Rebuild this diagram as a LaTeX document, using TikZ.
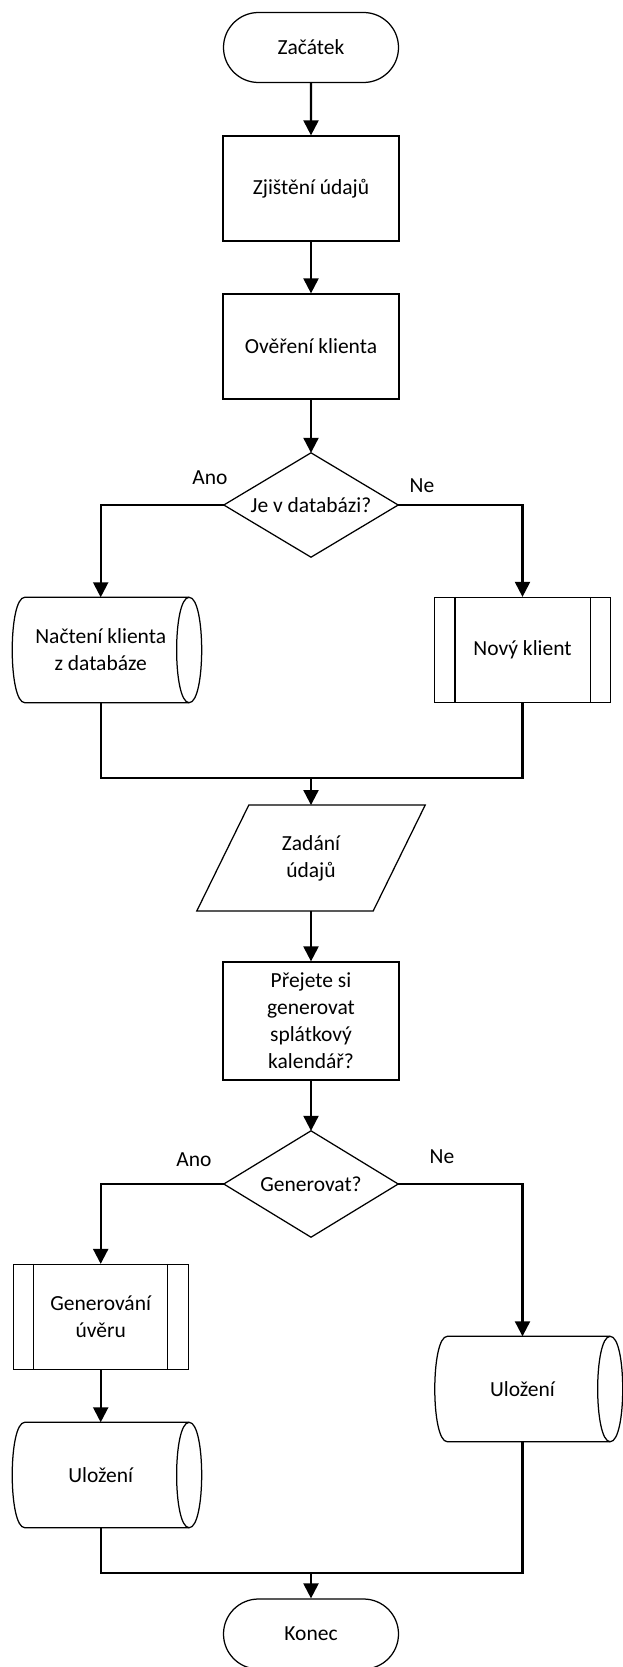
\documentclass[tikz,border=0pt]{standalone}
\usepackage{fontspec}
\setmainfont{Carlito}
\usetikzlibrary{shapes.misc,arrows.meta,calc}

% horizontal cylinder (direct data) drawn around a plain frame node
\newcommand{\drawstorage}[1]{%
  \draw[shapeline] ($(#1.north west)+(12.5,0)$) -- (#1.north east)
    .. controls ($(#1.north east)+(16.7,0)$) and ($(#1.south east)+(16.7,0)$) .. (#1.south east)
    -- ($(#1.south west)+(12.5,0)$)
    .. controls ($(#1.south west)+(-4.2,0)$) and ($(#1.north west)+(-4.2,0)$) .. ($(#1.north west)+(12.5,0)$)
    -- cycle;
  \draw[shapeline] (#1.north east)
    .. controls ($(#1.north east)+(-16.7,0)$) and ($(#1.south east)+(-16.7,0)$) .. (#1.south east);}

% inner bars of a predefined process box
\newcommand{\drawpredef}[1]{%
  \draw[shapeline] ($(#1.north west)+(21,0)$) -- ($(#1.south west)+(21,0)$)
                   ($(#1.north east)+(-21,0)$) -- ($(#1.south east)+(-21,0)$);}

% diamond drawn through the anchors of a frame node
\newcommand{\drawdecision}[1]{%
  \draw[shapeline] (#1.north) -- (#1.east) -- (#1.south) -- (#1.west) -- cycle;}

% parallelogram (data input)
\newcommand{\drawinput}[1]{%
  \draw[shapeline] ($(#1.north west)+(26,0)$) -- ($(#1.north east)+(26,0)$)
    -- ($(#1.south east)+(-26,0)$) -- ($(#1.south west)+(-26,0)$) -- cycle;}

\begin{document}
\begin{tikzpicture}[x=1pt,y=-1pt,
  every node/.style={font=\fontsize{21.5}{27}\selectfont, align=center, inner sep=0pt},
  shapeline/.style={line width=1.25pt},
  terminal/.style={rounded rectangle, draw, shapeline, minimum width=175pt, minimum height=70pt},
  procbox/.style={rectangle, draw, shapeline, minimum width=176pt, minimum height=105pt},
  frame/.style={rectangle, minimum width=176pt, minimum height=105pt},
  flow/.style={line width=2.2pt, -{Triangle[length=15pt,width=15pt]}},
  joinline/.style={line width=2.2pt}
]
\fill[white] (0,0) rectangle (622,1667);
\useasboundingbox (0,0) rectangle (622,1667);

% main column
\node[terminal] (start) at (311,47.5) {Začátek};
\node[procbox] (zj) at (311,188.5) {Zjištění údajů};
\node[procbox] (ov) at (311,346.5) {Ověření klienta};
\node[frame, minimum width=174pt, minimum height=104pt] (d1) at (311,505) {Je v databázi?};
\drawdecision{d1}

% first branch
\node[frame, minimum width=176.5pt] (s1) at (100.7,650) {Načtení klienta\\z databáze};
\drawstorage{s1}
\node[procbox] (pp1) at (522.5,650) {Nový klient};
\drawpredef{pp1}
\coordinate (m1) at (311,778);

\node[frame, minimum height=105.5pt] (inp) at (311,858) {Zadání\\údajů};
\drawinput{inp}
\node[procbox, minimum height=118pt] (ask) at (311,1021) {Přejete si\\generovat\\splátkový\\kalendář?};
\node[frame, minimum width=174pt, minimum height=106pt] (d2) at (311,1184) {Generovat?};
\drawdecision{d2}

% second branch
\node[procbox, minimum width=175pt] (pp2) at (100.7,1317) {Generování\\úvěru};
\drawpredef{pp2}
\node[frame, minimum width=176.5pt] (s2) at (100.7,1475) {Uložení};
\drawstorage{s2}
\node[frame, minimum width=175pt] (s3) at (522.5,1389) {Uložení};
\drawstorage{s3}
\coordinate (m2) at (311,1573);
\node[terminal] (end) at (311,1634) {Konec};

% branch labels
\node (ano1) at (210,478) {Ano};
\node (ne1) at (422,486) {Ne};
\node (ano2) at (194,1160) {Ano};
\node (ne2) at (442,1157) {Ne};

% connectors
\draw[flow] (start) -- (zj);
\draw[flow] (zj) -- (ov);
\draw[flow] (ov) -- (d1.north);
\draw[flow] (d1.west) -| (s1.north);
\draw[flow] (d1.east) -| (pp1.north);
\draw[joinline] (s1.south) |- (m1) -| (pp1.south);
\draw[flow] (m1) -- (inp.north);
\draw[flow] (inp) -- (ask);
\draw[flow] (ask) -- (d2.north);
\draw[flow] (d2.west) -| (pp2.north);
\draw[flow] (d2.east) -| (s3.north);
\draw[flow] (pp2) -- (s2);
\draw[joinline] (s2.south) |- (m2) -| (s3.south);
\draw[flow] (m2) -- (end);
\end{tikzpicture}
\end{document}
